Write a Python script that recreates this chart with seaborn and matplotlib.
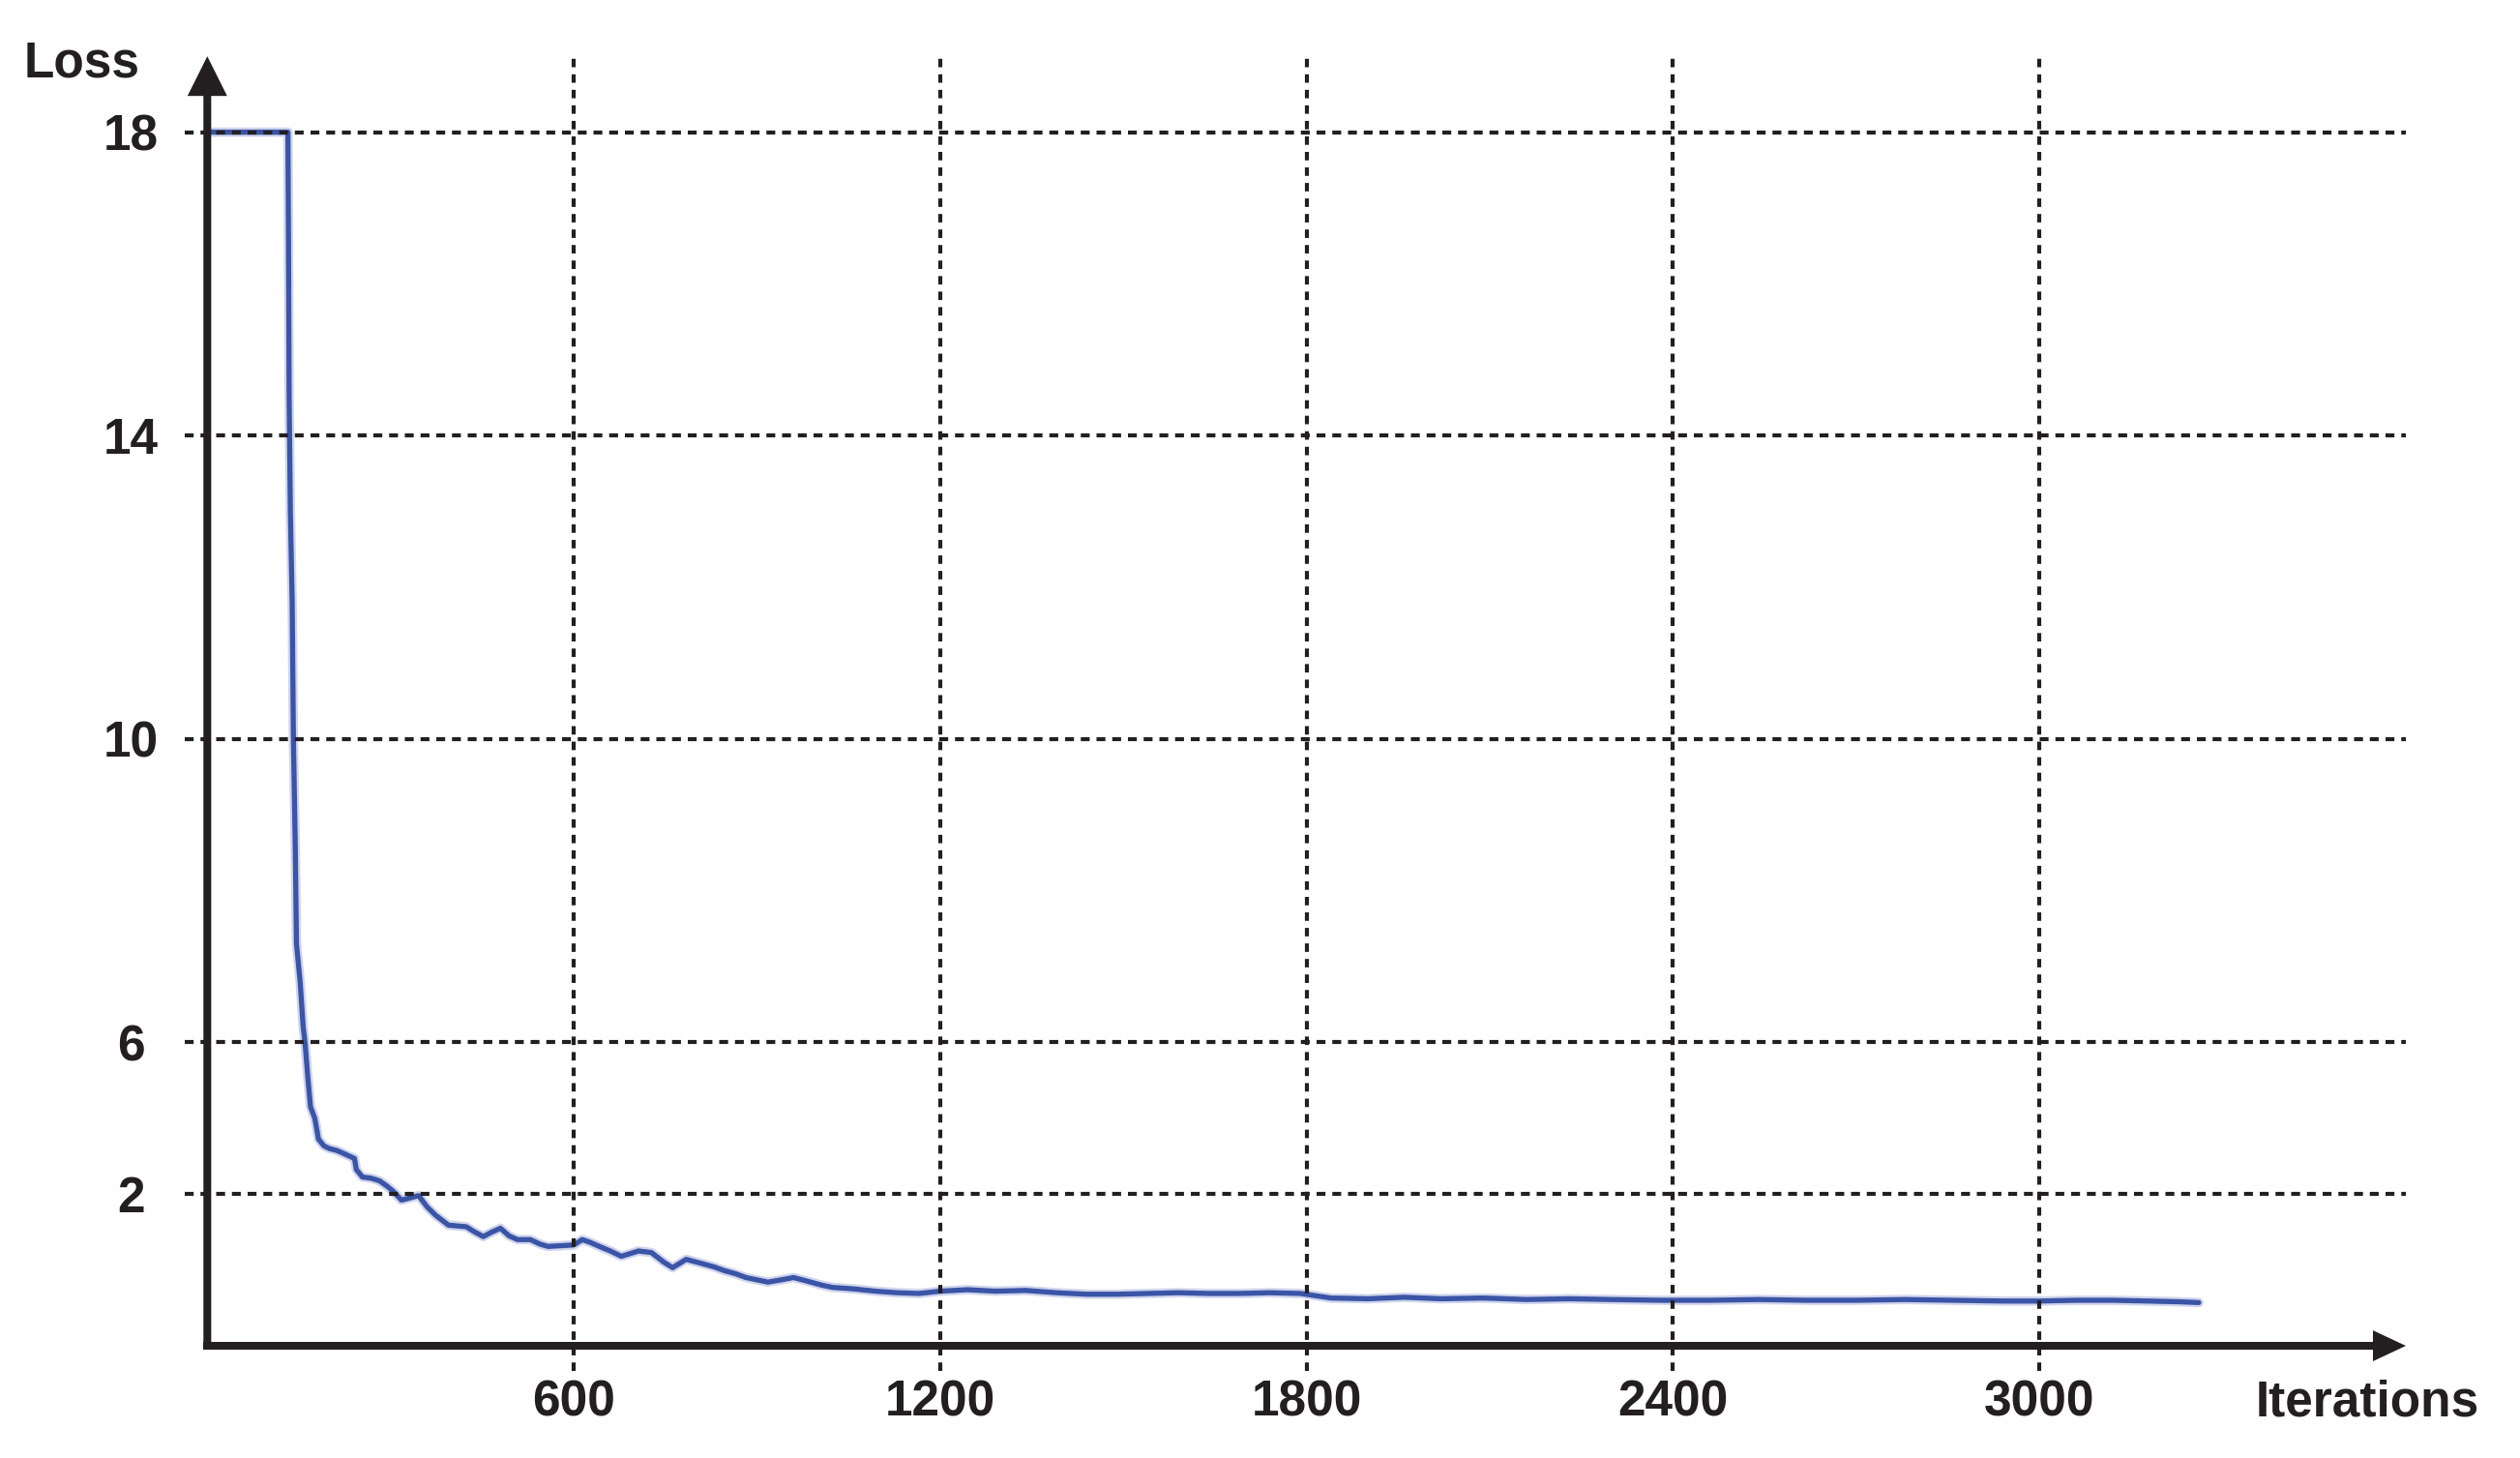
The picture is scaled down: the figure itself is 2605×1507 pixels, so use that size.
import numpy as np
import pandas as pd
import matplotlib
matplotlib.use("Agg")
import matplotlib.pyplot as plt
import seaborn as sns
from matplotlib.patches import FancyArrowPatch

# ---------------- data ----------------
iterations = [0, 132, 133, 134, 136, 139, 141, 144, 146, 152, 157, 160, 165, 169,
              176, 182, 191, 200, 212, 222, 230, 241, 244, 254, 268, 282, 295, 304,
              318, 332, 346, 360, 374, 395, 410, 424, 438, 452, 466, 480, 494, 508,
              529, 545, 558, 580, 600, 614, 628, 642, 660, 678, 694, 706, 727, 748,
              762, 784, 812, 830, 847, 865, 882, 900, 918, 940, 960, 988, 1006, 1024,
              1059, 1094, 1129, 1165, 1200, 1245, 1290, 1340, 1390, 1440, 1490, 1540,
              1590, 1640, 1690, 1740, 1790, 1840, 1900, 1960, 2020, 2090, 2160, 2230,
              2300, 2380, 2460, 2540, 2620, 2700, 2780, 2860, 2940, 3000, 3060, 3120,
              3180, 3230, 3261]
loss = [18.0, 18.0, 16.5, 14.5, 13.0, 11.8, 10.0, 8.6, 7.3, 6.8, 6.2, 6.0, 5.0, 4.3,
        4.0, 3.45, 3.27, 3.2, 3.15, 3.08, 3.02, 2.94, 2.65, 2.45, 2.42, 2.35, 2.2, 2.08,
        1.92, 1.95, 1.98, 1.83, 1.72, 1.59, 1.58, 1.57, 1.5, 1.44, 1.5, 1.55, 1.45, 1.40,
        1.40, 1.34, 1.31, 1.32, 1.33, 1.40, 1.36, 1.31, 1.25, 1.18, 1.22, 1.25, 1.23, 1.10,
        1.03, 1.14, 1.08, 1.04, 0.99, 0.95, 0.90, 0.87, 0.84, 0.87, 0.90, 0.84, 0.80, 0.77,
        0.75, 0.72, 0.70, 0.69, 0.72, 0.74, 0.72, 0.73, 0.70, 0.68, 0.68, 0.69,
        0.70, 0.69, 0.69, 0.70, 0.69, 0.63, 0.62, 0.64, 0.62, 0.63, 0.61, 0.62,
        0.61, 0.60, 0.60, 0.61, 0.60, 0.60, 0.61, 0.60, 0.59, 0.59, 0.60, 0.60,
        0.59, 0.58, 0.57]

x_ticks = [600, 1200, 1800, 2400, 3000]
x_tick_labels = ["600", "1200", "1800", "2400", "3000"]
y_ticks = [2, 6, 10, 14, 18]
y_tick_labels = ["2", "6", "10", "14", "18"]
x_title = "Iterations"
y_title = "Loss"

# ---------------- style ----------------
sns.set_style("white")
plt.rcParams["font.family"] = ["Liberation Sans", "DejaVu Sans"]
plt.rcParams["font.weight"] = "bold"

INK = "#231f20"
LINE = "#3a54a6"
FUZZ = "#a9b1dd"
FS = 37

W, H, DPI = 2605, 1507, 100
fig = plt.figure(figsize=(W / DPI, H / DPI), dpi=DPI)
ax = fig.add_axes([189.05 / W, (H - 1422.4) / H, (2487 - 189.05) / W, (1422.4 - 58.2) / H])

# piecewise-linear value axis (2..6 is drawn at half the scale of the rest)
Y_BREAKS = [-100.0, 0.0, 2.0, 6.0, 100.0]
Y_POS = [-100.0, 0.0, 2.0, 4.0, 98.0]


def fwd(v):
    return np.interp(v, Y_BREAKS, Y_POS)


def inv(u):
    return np.interp(u, Y_POS, Y_BREAKS)


ax.set_yscale("function", functions=(fwd, inv))
ax.set_xlim(-40, 3600)
ax.set_ylim(-0.4, 19.0)

df = pd.DataFrame({"Iterations": iterations, "Loss": loss})
sns.lineplot(data=df, x="Iterations", y="Loss", ax=ax, color=FUZZ, lw=7.0,
             alpha=0.55, estimator=None, sort=False, zorder=2)
sns.lineplot(data=df, x="Iterations", y="Loss", ax=ax, color=LINE, lw=3.8,
             estimator=None, sort=False, zorder=3)

# dashed grid on top of the curve
ax.hlines(y_ticks, -37, 3600, colors=INK, lw=3.0, linestyles=(0, (2.2, 1.7)), zorder=4)
ax.vlines(x_ticks, -0.33, 19.0, colors=INK, lw=3.0, linestyles=(0, (2.1, 1.75)), zorder=4)

for s in ax.spines.values():
    s.set_visible(False)
ax.set_xlabel("")
ax.set_ylabel("")

ax.set_xticks(x_ticks, x_tick_labels)
ax.set_yticks(y_ticks, y_tick_labels)
ax.tick_params(axis="both", length=0, labelsize=FS, colors=INK)
ax.tick_params(axis="x", pad=15.6)
ax.tick_params(axis="y", pad=38.5)
for lab in ax.get_xticklabels():
    lab.set_va("center_baseline")
    lab.set_fontweight("bold")
for lab in ax.get_yticklabels():
    lab.set_ha("center")
    lab.set_fontweight("bold")

# axis arrows
ax.add_patch(FancyArrowPatch((0, -0.05), (0, 19.0),
                             arrowstyle="simple,head_length=29.5,head_width=29.5,tail_width=5.8",
                             mutation_scale=1, color=INK, lw=0, zorder=6, clip_on=False,
                             shrinkA=0, shrinkB=0))
ax.add_patch(FancyArrowPatch((-6.8, 0), (3600, 0),
                             arrowstyle="simple,head_length=24.5,head_width=23,tail_width=5.8",
                             mutation_scale=1, color=INK, lw=0, zorder=6, clip_on=False,
                             shrinkA=0, shrinkB=0))

fig.text(84.5 / W, 1 - 60 / H, y_title, ha="center", va="center_baseline",
         fontsize=FS, fontweight="bold", color=INK)
fig.text(2447 / W, 1 - 1444 / H, x_title, ha="center", va="center_baseline",
         fontsize=FS, fontweight="bold", color=INK)

fig.savefig("out.png", dpi=DPI)
